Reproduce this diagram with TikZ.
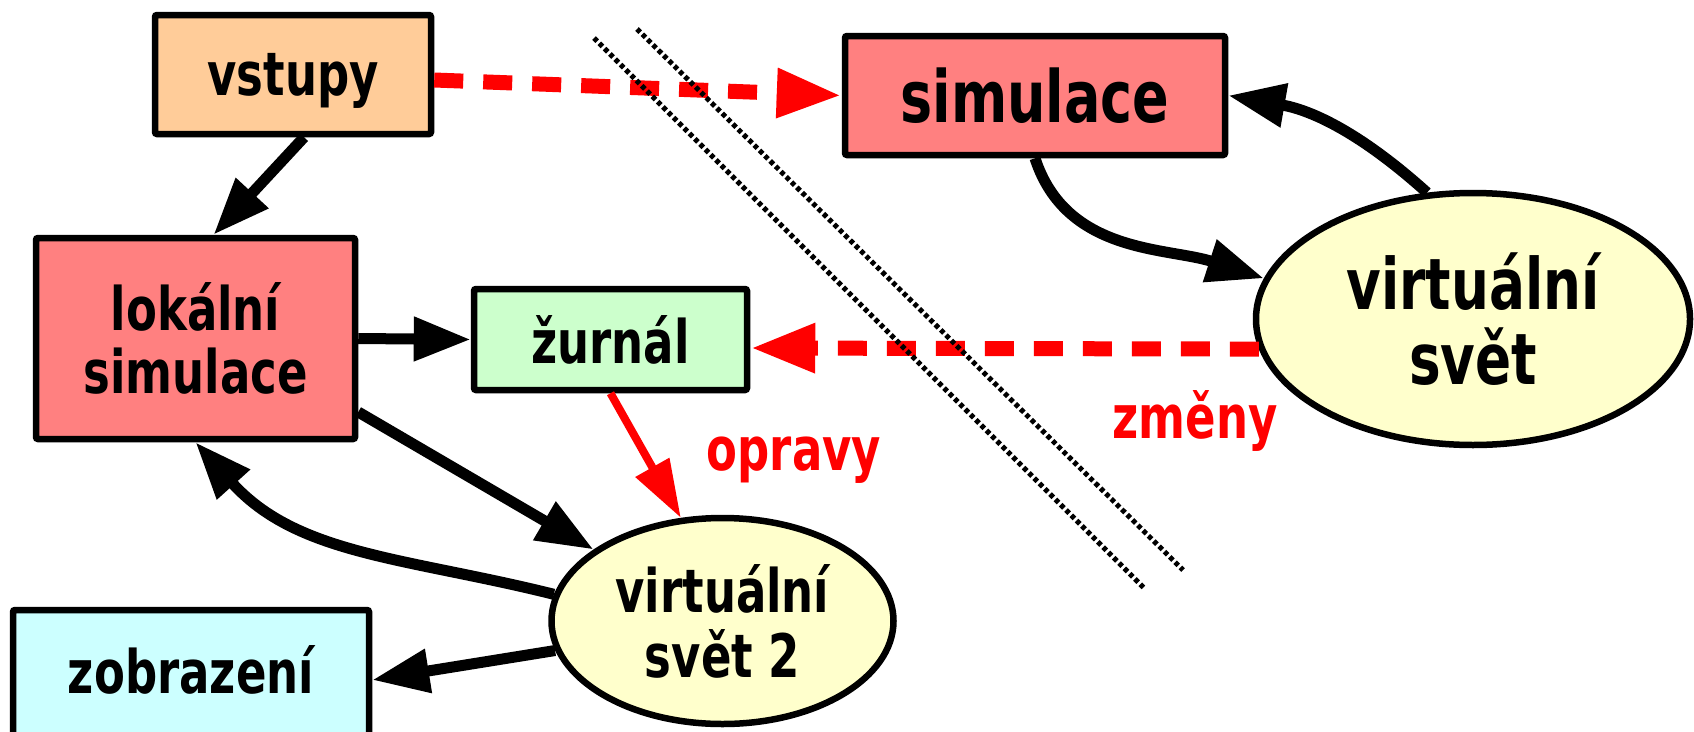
\documentclass[tikz,border=0pt]{standalone}
\usepackage{fontspec}
\setmainfont{DejaVu Sans}[FakeStretch=0.75]
\usepackage{xcolor}
\usetikzlibrary{arrows.meta,shapes.geometric}

\definecolor{oranzova}{HTML}{FFCC99}
\definecolor{cervena}{HTML}{FF8080}
\definecolor{zelena}{HTML}{CCFFCC}
\definecolor{modra}{HTML}{CCFFFF}
\definecolor{zluta}{HTML}{FFFFCC}

\begin{document}
\begin{tikzpicture}[x=1pt, y=1pt, ->, >={Triangle[length=57pt,width=42pt]},
    box/.style={draw, line width=6.5pt, rounded corners=2pt, inner sep=0pt, align=center,
                font=\bfseries\fontsize{60}{63}\selectfont},
    svet/.style={ellipse, draw, line width=6.5pt, fill=zluta, inner sep=0pt, align=center},
    tok/.style={line width=11pt},
    zmena/.style={red, line width=15pt, dash pattern=on 29pt off 20pt,
                  -{Triangle[length=65pt,width=46pt]}},
    oprava/.style={red, line width=8pt, -{Triangle[length=58pt,width=37pt]}},
    popis/.style={red, anchor=base, font=\bfseries\fontsize{60}{63}\selectfont},
    hranice/.style={-, line width=5pt, dash pattern=on 4.5pt off 3pt}]
  \useasboundingbox (0,0) rectangle (1694,-731);

  \node[box, fill=oranzova, minimum width=276, minimum height=119, text depth=0pt] (vstupy) at (293,-74.5) {vstupy};
  \node[box, fill=cervena, minimum width=380, minimum height=119,
        font=\bfseries\fontsize{72}{75}\selectfont] (simulace) at (1035,-95.5) {simulace};
  \node[box, fill=cervena, minimum width=319, minimum height=201] (lokalni) at (195.5,-338.5) {lokální\\simulace};
  \node[box, fill=zelena, minimum width=273, minimum height=101] (zurnal) at (610.5,-339.5) {žurnál};
  \node[box, fill=modra, minimum width=356, minimum height=140, text depth=22pt] (zobrazeni) at (191,-680) {zobrazení};

  \node[svet, minimum width=434, minimum height=252,
        font=\bfseries\fontsize{71}{75}\selectfont] (svet) at (1473,-319) {virtuální\\svět};
  \node[svet, minimum width=342, minimum height=206,
        font=\bfseries\fontsize{60}{65}\selectfont] (svet2) at (722.5,-621) {virtuální\\svět 2};

  \node[popis] (zmeny) at (1195,-438) {změny};
  \node[popis] (opravy) at (794,-470) {opravy};

  \path ([xshift=11pt]vstupy.south) edge[tok] ([xshift=18pt]lokalni.north)
        ([yshift=-5.5pt]vstupy.east) edge[zmena] (simulace.west) % vstupy jdou i na server
        (lokalni.east) edge[tok] (zurnal.west)
        ([yshift=-73.5pt]lokalni.east) edge[tok] (svet2.151)
        (svet2.171) edge[tok, out=166, in=-48] (lokalni.south)
        (svet2.190) edge[tok] (zobrazeni.east)
        (zurnal.south) edge[oprava] (svet2.112)
        (simulace.south) edge[tok, out=-72, in=162] (svet.169)
        (svet.110) edge[tok, out=138, in=-10] (simulace.east)
        (svet.188) edge[zmena] ([yshift=-8.5pt]zurnal.east); % zmeny zpet do zurnalu

  % hranice mezi klientem a serverem
  \coordinate (h1a) at (594,-38);
  \coordinate (h1b) at (1145,-589);
  \coordinate (h2a) at (637,-29);
  \coordinate (h2b) at (1183,-570);
  \draw[hranice] (h1a) -- (h1b);
  \draw[hranice] (h2a) -- (h2b);
\end{tikzpicture}
\end{document}
